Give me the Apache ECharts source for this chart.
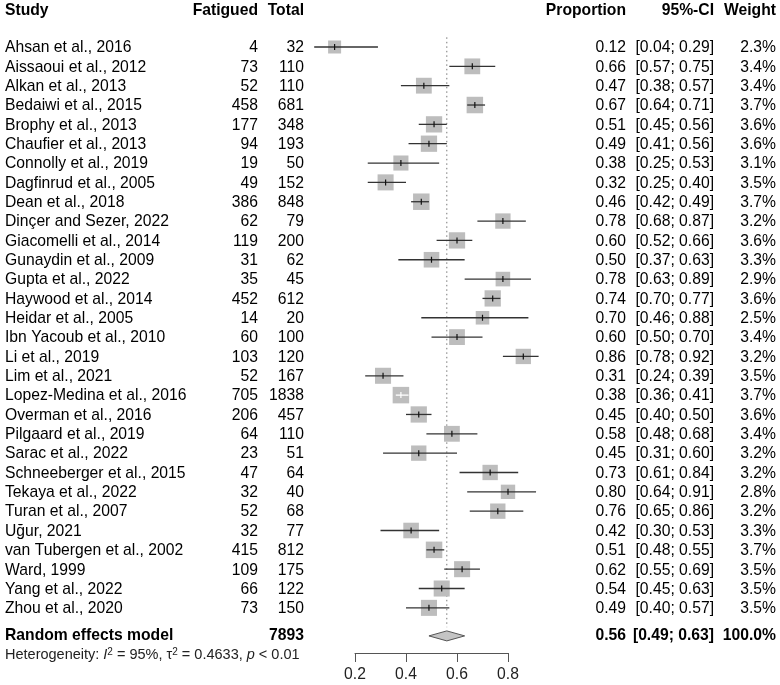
<!DOCTYPE html>
<html>
<head>
<meta charset="utf-8">
<title>Forest plot</title>
<script src="https://cdn.jsdelivr.net/npm/echarts@6/dist/echarts.min.js"></script>
<style>
  html, body { margin: 0; padding: 0; background: #fff; }
  #chart { width: 780px; height: 685px; }
</style>
</head>
<body>
<div id="chart"></div>
<script>
/* ---------- data ---------- */
var studies = [
  "Ahsan et al., 2016", "Aissaoui et al., 2012", "Alkan et al., 2013", "Bedaiwi et al., 2015",
  "Brophy et al., 2013", "Chaufier et al., 2013", "Connolly et al., 2019", "Dagfinrud et al., 2005",
  "Dean et al., 2018", "Dinçer and Sezer, 2022", "Giacomelli et al., 2014", "Gunaydin et al., 2009",
  "Gupta et al., 2022", "Haywood et al., 2014", "Heidar et al., 2005", "Ibn Yacoub et al., 2010",
  "Li et al., 2019", "Lim et al., 2021", "Lopez-Medina et al., 2016", "Overman et al., 2016",
  "Pilgaard et al., 2019", "Sarac et al., 2022", "Schneeberger et al., 2015", "Tekaya et al., 2022",
  "Turan et al., 2007", "Uğur, 2021", "van Tubergen et al., 2002", "Ward, 1999",
  "Yang et al., 2022", "Zhou et al., 2020"
];
var fatigued = [4, 73, 52, 458, 177, 94, 19, 49, 386, 62, 119, 31, 35, 452, 14, 60,
  103, 52, 705, 206, 64, 23, 47, 32, 52, 32, 415, 109, 66, 73];
var totals = [32, 110, 110, 681, 348, 193, 50, 152, 848, 79, 200, 62, 45, 612, 20, 100,
  120, 167, 1838, 457, 110, 51, 64, 40, 68, 77, 812, 175, 122, 150];
var proportion = [0.12, 0.66, 0.47, 0.67, 0.51, 0.49, 0.38, 0.32, 0.46, 0.78, 0.60, 0.50,
  0.78, 0.74, 0.70, 0.60, 0.86, 0.31, 0.38, 0.45, 0.58, 0.45, 0.73, 0.80, 0.76, 0.42,
  0.51, 0.62, 0.54, 0.49];
var ciLower = [0.04, 0.57, 0.38, 0.64, 0.45, 0.41, 0.25, 0.25, 0.42, 0.68, 0.52, 0.37,
  0.63, 0.70, 0.46, 0.50, 0.78, 0.24, 0.36, 0.40, 0.48, 0.31, 0.61, 0.64, 0.65, 0.30,
  0.48, 0.55, 0.45, 0.40];
var ciUpper = [0.29, 0.75, 0.57, 0.71, 0.56, 0.56, 0.53, 0.40, 0.49, 0.87, 0.66, 0.63,
  0.89, 0.77, 0.88, 0.70, 0.92, 0.39, 0.41, 0.50, 0.68, 0.60, 0.84, 0.91, 0.86, 0.53,
  0.55, 0.69, 0.63, 0.57];
var weights = [2.3, 3.4, 3.4, 3.7, 3.6, 3.6, 3.1, 3.5, 3.7, 3.2, 3.6, 3.3, 2.9, 3.6, 2.5, 3.4,
  3.2, 3.5, 3.7, 3.6, 3.4, 3.2, 3.2, 2.8, 3.2, 3.3, 3.7, 3.5, 3.5, 3.5];
var pooled = { est: 0.56, lower: 0.49, upper: 0.63, total: 7893, weight: "100.0%" };
var heterogeneity = { i2: "95%", tau2: "0.4633", p: "< 0.01" };

/* ---------- layout ---------- */
var FONT = "Liberation Sans, Arial, sans-serif";
var FS = 15.7;
var ROW_HEADER = -1.9;
var ROW_POOLED = 30.4;
var ROW_HET = 31.4;
var COL = { study: 5, fatigued: 258, total: 304, prop: 626, ci: 714, weight: 776 };

function boxSize(w) { return 16.5 * Math.sqrt(w / 3.7); }
function fmt2(v) { return v.toFixed(2); }
function ciText(lo, hi) { return "[" + fmt2(lo) + "; " + fmt2(hi) + "]"; }

function txt(x, y, s, align, bold) {
  return {
    type: "text",
    style: {
      x: x, y: y, text: s, fill: "#000",
      font: (bold ? "bold " : "") + FS + "px " + FONT,
      textAlign: align, textVerticalAlign: "middle"
    }
  };
}

var rowData = studies.map(function(s, i) { return [0, i]; });
var ciData = studies.map(function(s, i) {
  return [ciLower[i], ciUpper[i], proportion[i], i, weights[i]];
});
var boxData = studies.map(function(s, i) { return [proportion[i], i, weights[i]]; });

var chart = echarts.init(document.getElementById("chart"));

chart.setOption({
  animation: false,
  backgroundColor: "#fff",
  grid: [
    { left: 304, width: 255, top: 8.32, height: 657.56 },
    { left: 355, width: 153, top: 652, height: 1 }
  ],
  xAxis: [
    { gridIndex: 0, type: "value", min: 0, max: 1, show: false },
    {
      gridIndex: 1, type: "value", min: 0.2, max: 0.8, interval: 0.2,
      position: "bottom",
      axisLine: { lineStyle: { color: "#555", width: 1 } },
      axisTick: { show: true, length: 9, lineStyle: { color: "#555", width: 1 } },
      splitLine: { show: false },
      axisLabel: {
        color: "#222", fontSize: FS, fontFamily: FONT, margin: 14,
        formatter: function(v) { return v.toFixed(1); }
      }
    }
  ],
  yAxis: [
    { gridIndex: 0, type: "value", inverse: true, min: -2, max: 32, show: false },
    { gridIndex: 1, type: "value", min: 0, max: 1, show: false }
  ],
  series: [
    // pooled estimate reference line
    {
      type: "line", xAxisIndex: 0, yAxisIndex: 0, symbol: "none", silent: true,
      data: [[pooled.est, -0.5], [pooled.est, 30.0]],
      lineStyle: { color: "#777", width: 1, type: [1.5, 3] }, z: 1
    },
    // study boxes
    {
      type: "scatter", xAxisIndex: 0, yAxisIndex: 0, symbol: "rect", silent: true,
      data: boxData,
      symbolSize: function(v) { return boxSize(v[2]); },
      itemStyle: { color: "#bdbdbd", opacity: 1 }, z: 2
    },
    // confidence intervals and point marks
    {
      type: "custom", xAxisIndex: 0, yAxisIndex: 0, silent: true, z: 3,
      data: ciData,
      renderItem: function(params, api) {
        var a = api.coord([api.value(0), api.value(3)]);
        var b = api.coord([api.value(1), api.value(3)]);
        var c = api.coord([api.value(2), api.value(3)]);
        var inside = (b[0] - a[0]) < boxSize(api.value(4));
        return {
          type: "group",
          children: [
            { type: "line", shape: { x1: a[0], y1: a[1], x2: b[0], y2: b[1] },
              style: { stroke: inside ? "#fff" : "#333", lineWidth: 1.3 } },
            { type: "line", shape: { x1: c[0], y1: c[1] - 3, x2: c[0], y2: c[1] + 3 },
              style: { stroke: inside ? "#fff" : "#111", lineWidth: 1.2 } }
          ]
        };
      }
    },
    // pooled diamond
    {
      type: "custom", xAxisIndex: 0, yAxisIndex: 0, silent: true, z: 3,
      data: [[pooled.lower, pooled.est, pooled.upper, ROW_POOLED + 0.05]],
      renderItem: function(params, api) {
        var l = api.coord([api.value(0), api.value(3)]);
        var m = api.coord([api.value(1), api.value(3)]);
        var r = api.coord([api.value(2), api.value(3)]);
        return {
          type: "polygon",
          shape: { points: [[l[0], l[1]], [m[0], m[1] - 5], [r[0], r[1]], [m[0], m[1] + 5]] },
          style: { fill: "#c4c4c4", stroke: "#555", lineWidth: 1 }
        };
      }
    },
    // text columns for each study
    {
      type: "custom", xAxisIndex: 0, yAxisIndex: 0, silent: true, z: 4,
      data: rowData,
      renderItem: function(params, api) {
        var i = api.value(1);
        var y = api.coord([0, i])[1] + 1;
        return {
          type: "group",
          children: [
            txt(COL.study, y, studies[i], "left"),
            txt(COL.fatigued, y, String(fatigued[i]), "right"),
            txt(COL.total, y, String(totals[i]), "right"),
            txt(COL.prop, y, fmt2(proportion[i]), "right"),
            txt(COL.ci, y, ciText(ciLower[i], ciUpper[i]), "right"),
            txt(COL.weight, y, weights[i].toFixed(1) + "%", "right")
          ]
        };
      }
    },
    // header, pooled row and heterogeneity line
    {
      type: "custom", xAxisIndex: 0, yAxisIndex: 0, silent: true, z: 4,
      data: [[0, 0]],
      renderItem: function(params, api) {
        var yh = api.coord([0, ROW_HEADER])[1];
        var yp = api.coord([0, ROW_POOLED])[1] + 1;
        var yt = api.coord([0, ROW_HET])[1] + 1;
        return {
          type: "group",
          children: [
            txt(COL.study, yh, "Study", "left", true),
            txt(COL.fatigued, yh, "Fatigued", "right", true),
            txt(COL.total, yh, "Total", "right", true),
            txt(COL.prop, yh, "Proportion", "right", true),
            txt(COL.ci, yh, "95%-CI", "right", true),
            txt(COL.weight, yh, "Weight", "right", true),
            txt(COL.study, yp, "Random effects model", "left", true),
            txt(COL.total, yp, String(pooled.total), "right", true),
            txt(COL.prop, yp, fmt2(pooled.est), "right", true),
            txt(COL.ci, yp, ciText(pooled.lower, pooled.upper), "right", true),
            txt(COL.weight, yp, pooled.weight, "right", true),
            {
              type: "text",
              style: {
                x: COL.study, y: yt, textVerticalAlign: "middle", fill: "#222",
                text: "Heterogeneity: {it|I}{sup|2} = " + heterogeneity.i2 + ", τ{sup|2} = " +
                  heterogeneity.tau2 + ", {it|p} " + heterogeneity.p,
                font: "14.5px " + FONT,
                rich: {
                  it: { fontStyle: "italic", fontSize: 14.5, fontFamily: FONT, fill: "#222" },
                  sup: { fontSize: 10, fontFamily: FONT, verticalAlign: "top", padding: [0, 0, 7, 0], fill: "#222" }
                }
              }
            }
          ]
        };
      }
    }
  ]
});
</script>
</body>
</html>
